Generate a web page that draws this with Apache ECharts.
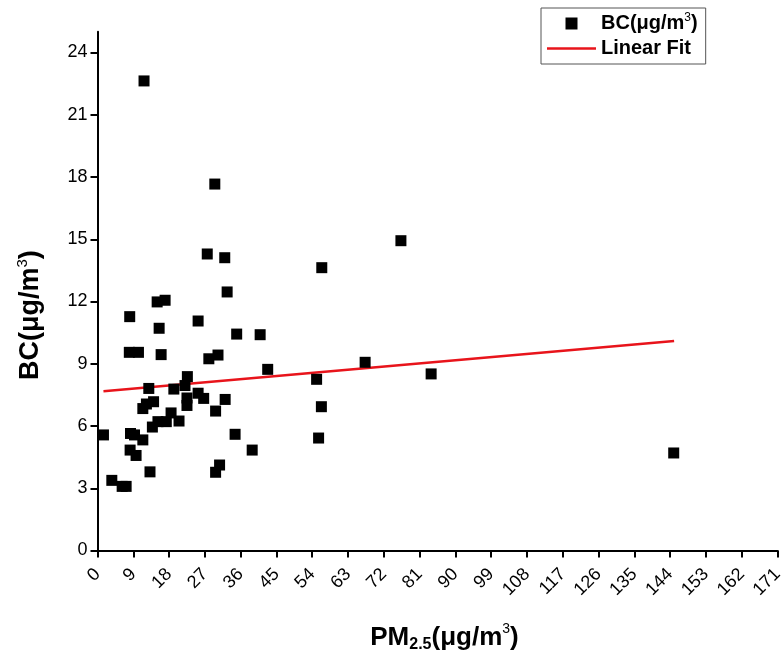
<!DOCTYPE html>
<html>
<head>
<meta charset="utf-8">
<script src="https://cdn.jsdelivr.net/npm/echarts@6/dist/echarts.min.js"></script>
<style>html,body{margin:0;padding:0;background:#fff;}#c{width:783px;height:661px;}</style>
</head>
<body>
<div id="c"></div>
<script>
// PM2.5 (µg/m3) values
const pm25 = [11.7, 29.5, 27.6, 32.0, 56.4, 32.6, 15.0, 17.0, 8.1, 25.3, 15.5, 35.0, 40.9,
  8.0, 10.3, 16.0, 28.0, 30.3, 42.8, 55.1, 67.3, 83.9, 76.3, 144.9,
  22.6, 12.9, 19.2, 22.0, 22.5, 25.3, 26.7, 32.1, 22.5, 29.7, 14.1, 12.3, 11.4, 18.5,
  15.2, 13.8, 17.3, 20.5, 1.5, 8.3, 9.3, 11.4, 34.6, 55.6, 56.3, 8.2, 9.7, 38.9,
  13.2, 29.7, 30.7, 3.6, 6.2, 7.2];
// BC (µg/m3) values
const bc = [22.63, 17.66, 14.29, 14.11, 13.63, 12.46, 11.98, 12.06, 11.27, 11.06, 10.71, 10.43, 10.40,
  9.55, 9.55, 9.44, 9.24, 9.42, 8.73, 8.25, 9.07, 8.51, 14.93, 4.70,
  8.38, 7.81, 7.78, 7.95, 7.35, 7.58, 7.33, 7.28, 6.99, 6.72, 7.17, 7.06, 6.84, 6.63,
  6.21, 5.95, 6.21, 6.24, 5.57, 5.64, 5.57, 5.33, 5.60, 5.42, 6.93, 4.84, 4.58, 4.84,
  3.79, 3.77, 4.12, 3.38, 3.09, 3.09];
// Linear fit endpoints
const fitX = [1.5, 145];
const fitY = [7.67, 10.1];

const seriesNames = ['BC', 'Linear Fit'];

const scatterData = pm25.map((x, i) => [x, bc[i]]);
const fitData = fitX.map((x, i) => [x, fitY[i]]);

const font = 'Liberation Sans, Arial, sans-serif';
const red = '#e8141b';
const chart = echarts.init(document.getElementById('c'));
chart.setOption({
  animation: false,
  backgroundColor: '#fff',
  grid: { left: 97.5, right: 5.5, top: 31.75, bottom: 110.5, containLabel: false, outerBoundsMode: 'none' },
  legend: {
    orient: 'vertical',
    left: 541, top: 8,
    borderColor: '#555', borderWidth: 1,
    padding: [4, 8, 4, 6],
    itemGap: 2,
    itemWidth: 49, itemHeight: 12,
    data: [
      { name: 'BC', icon: 'path://M0,0L10,0L10,10L0,10Z', itemStyle: { color: '#000' } },
      { name: 'Linear Fit', icon: 'path://M0,0L49,0L49,2.5L0,2.5Z', itemStyle: { color: red } }
    ],
    formatter: function (n) {
      return n === 'BC' ? 'BC(μg/m{sup|3})' : 'Linear Fit';
    },
    textStyle: {
      fontFamily: font, fontWeight: 'bold', fontSize: 20, color: '#000', lineHeight: 23,
      rich: { sup: { fontFamily: font, fontWeight: 'normal', fontSize: 12, verticalAlign: 'top', lineHeight: 11, color: '#000' } }
    }
  },
  xAxis: {
    type: 'value', min: 0, max: 171, interval: 9,
    axisLine: { lineStyle: { color: '#000', width: 2 }, onZero: false },
    axisTick: { show: true, length: 7, lineStyle: { color: '#000', width: 2 } },
    splitLine: { show: false },
    axisLabel: { rotate: 45, fontFamily: font, fontSize: 18, color: '#000', margin: 21, showMaxLabel: true },
    name: 'PM{sub|2.5}(μg/m{sup|3})',
    nameLocation: 'middle', nameGap: 72,
    nameTextStyle: {
      fontFamily: font, fontWeight: 'bold', fontSize: 26, color: '#000', lineHeight: 30,
      padding: [0, 0, 0, 14],
      rich: {
        sub: { fontFamily: font, fontWeight: 'bold', fontSize: 16, verticalAlign: 'bottom', lineHeight: 15, color: '#000' },
        sup: { fontFamily: font, fontWeight: 'normal', fontSize: 14, verticalAlign: 'top', lineHeight: 14, color: '#000' }
      }
    }
  },
  yAxis: {
    type: 'value', min: 0, max: 25, interval: 3,
    axisLine: { show: true, lineStyle: { color: '#000', width: 2 } },
    axisTick: { show: true, length: 7, lineStyle: { color: '#000', width: 2 } },
    splitLine: { show: false },
    axisLabel: { fontFamily: font, fontSize: 18, color: '#000', margin: 10, showMaxLabel: false },
    name: 'BC(μg/m{sup|3})',
    nameLocation: 'middle', nameGap: 52, nameRotate: 90,
    nameTextStyle: {
      fontFamily: font, fontWeight: 'bold', fontSize: 27, color: '#000', lineHeight: 30,
      padding: [0, 48, 0, 0],
      rich: {
        sup: { fontFamily: font, fontWeight: 'normal', fontSize: 15, verticalAlign: 'top', lineHeight: 14, color: '#000' }
      }
    }
  },
  series: [
    {
      name: seriesNames[0], type: 'scatter', symbol: 'rect', symbolSize: 11,
      itemStyle: { color: '#000', opacity: 1 },
      data: scatterData, z: 3
    },
    {
      name: seriesNames[1], type: 'line', showSymbol: false, symbol: 'none',
      lineStyle: { color: red, width: 2.5 },
      itemStyle: { color: red },
      data: fitData, z: 2
    }
  ]
});
</script>
</body>
</html>
